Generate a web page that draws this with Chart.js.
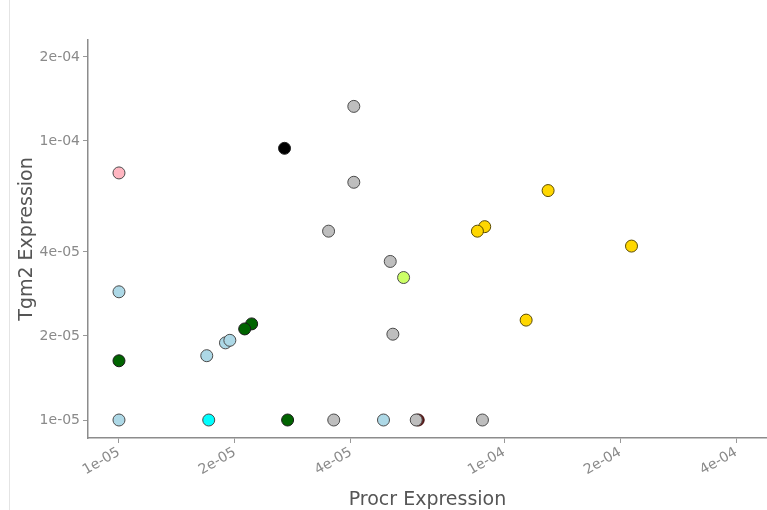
<!DOCTYPE html>
<html>
<head>
<meta charset="utf-8">
<script src="https://cdn.jsdelivr.net/npm/chart.js@4.4.1/dist/chart.umd.min.js"></script>
<style>
  html, body { margin: 0; padding: 0; background: #fff; }
  #wrap { position: relative; width: 767px; height: 510px; }
  #edge { position: absolute; left: 9px; top: 0; width: 1px; height: 510px; background: #e4e4e4; }
  #chart { position: absolute; left: 0; top: 0; }
</style>
</head>
<body>
<div id="wrap">
  <div id="edge"></div>
  <canvas id="chart" width="767" height="510"></canvas>
</div>
<script>
// values (log-log scatter)
const pinkProcr = [1.0e-5];
const pinkTgm2 = [7.68e-5];

const lightblueProcr = [1.0e-5, 1.0e-5, 1.69e-5, 1.89e-5, 1.94e-5, 4.86e-5];
const lightblueTgm2 = [2.88e-5, 1.0e-5, 1.70e-5, 1.89e-5, 1.93e-5, 1.0e-5];

const darkgreenProcr = [1.0e-5, 2.21e-5, 2.12e-5, 2.74e-5];
const darkgreenTgm2 = [1.63e-5, 2.21e-5, 2.12e-5, 1.0e-5];

const cyanProcr = [1.71e-5];
const cyanTgm2 = [1.0e-5];

const blackProcr = [2.69e-5];
const blackTgm2 = [9.41e-5];

const grayProcr = [4.07e-5, 4.07e-5, 3.50e-5, 5.06e-5, 5.14e-5, 3.61e-5, 5.91e-5, 8.78e-5];
const grayTgm2 = [1.33e-4, 7.11e-5, 4.75e-5, 3.70e-5, 2.03e-5, 1.0e-5, 1.0e-5, 1.0e-5];

const darkredProcr = [5.98e-5];
const darkredTgm2 = [1.0e-5];

const limeProcr = [5.48e-5];
const limeTgm2 = [3.24e-5];

const goldProcr = [8.90e-5, 8.52e-5, 1.30e-4, 2.14e-4, 1.14e-4];
const goldTgm2 = [4.93e-5, 4.75e-5, 6.64e-5, 4.20e-5, 2.28e-5];

const xTicks = [1e-5, 2e-5, 4e-5, 1e-4, 2e-4, 4e-4];
const xTickLabels = ['1e-05', '2e-05', '4e-05', '1e-04', '2e-04', '4e-04'];
const yTicks = [1e-5, 2e-5, 4e-5, 1e-4, 2e-4];
const yTickLabels = ['1e-05', '2e-05', '4e-05', '1e-04', '2e-04'];

function toPoints(xs, ys) {
    return xs.map((x, i) => ({ x: x, y: ys[i] }));
}

function group(xs, ys, fill, edge) {
    return {
        data: toPoints(xs, ys),
        backgroundColor: fill,
        borderColor: edge || '#4a4a4a',
        borderWidth: 1,
        pointRadius: 6,
        pointHoverRadius: 6
    };
}

// first dataset is drawn on top
const datasets = [
    group(goldProcr, goldTgm2, '#FFD700', '#5a4a00'),
    group(limeProcr, limeTgm2, '#CCFF66'),
    group(grayProcr, grayTgm2, '#BEBEBE'),
    group(darkredProcr, darkredTgm2, '#6b1a1a', '#3a0a0a'),
    group(blackProcr, blackTgm2, '#000000', '#222222'),
    group(cyanProcr, cyanTgm2, '#00FFFF'),
    group(darkgreenProcr, darkgreenTgm2, '#006400', '#1a1a1a'),
    group(lightblueProcr, lightblueTgm2, '#ADD8E6'),
    group(pinkProcr, pinkTgm2, '#FFB6C1')
];

const tickFont = { family: 'DejaVu Sans', size: 14 };
const titleFont = { family: 'DejaVu Sans', size: 19 };

const ctx = document.getElementById('chart').getContext('2d');
new Chart(ctx, {
    type: 'scatter',
    data: { datasets: datasets },
    options: {
        responsive: false,
        animation: false,
        layout: { autoPadding: false, padding: { top: 40, right: 0, bottom: 0, left: 0 } },
        plugins: { legend: { display: false }, tooltip: { enabled: false } },
        scales: {
            x: {
                type: 'logarithmic',
                min: 8.31e-6,
                max: 4.81e-4,
                afterBuildTicks: (axis) => { axis.ticks = xTicks.map(v => ({ value: v })); },
                afterFit: (axis) => {
                    axis.height = 72;
                    axis.paddingLeft = 0;
                    axis.paddingRight = 0;
                },
                ticks: {
                    callback: (v, i) => xTickLabels[i],
                    minRotation: 30,
                    maxRotation: 30,
                    padding: 1,
                    color: '#8a8a8a',
                    font: tickFont
                },
                grid: { display: true, drawOnChartArea: false, drawTicks: true, tickLength: 5, tickColor: '#999' },
                border: { display: true, color: '#8c8c8c', width: 1.5 },
                title: { display: true, text: 'Procr Expression', color: '#555', font: titleFont, padding: { top: 0, bottom: -1 } }
            },
            y: {
                type: 'logarithmic',
                min: 8.62e-6,
                max: 2.30e-4,
                afterBuildTicks: (axis) => { axis.ticks = yTicks.map(v => ({ value: v })); },
                afterFit: (axis) => {
                    axis.width = 88;
                    axis.paddingTop = 0;
                    axis.paddingBottom = 0;
                },
                ticks: {
                    callback: (v, i) => yTickLabels[i],
                    padding: 3,
                    color: '#8a8a8a',
                    font: tickFont
                },
                grid: { display: true, drawOnChartArea: false, drawTicks: true, tickLength: 5, tickColor: '#999' },
                border: { display: true, color: '#8c8c8c', width: 1.5 },
                title: { display: true, text: 'Tgm2 Expression', color: '#555', font: titleFont, padding: { top: 15.6, bottom: 0 } }
            }
        }
    }
});
</script>
</body>
</html>
